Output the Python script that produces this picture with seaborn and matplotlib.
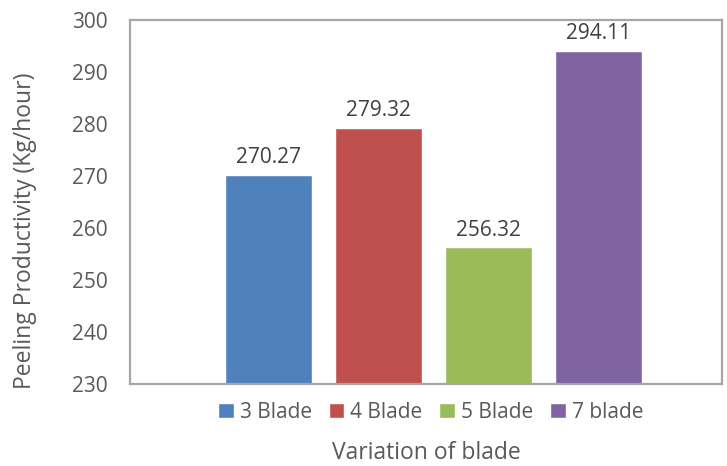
import matplotlib
matplotlib.use("Agg")
import matplotlib.pyplot as plt
import seaborn as sns
import pandas as pd

# Peeling productivity for each blade configuration
categories = ["3 Blade", "4 Blade", "5 Blade", "7 blade"]
productivity = [270.27, 279.32, 256.32, 294.11]
colors = ["#4F81BD", "#C0504D", "#9BBB59", "#8064A2"]
yticks = [230, 240, 250, 260, 270, 280, 290, 300]

df = pd.DataFrame({"group": [""] * len(categories),
                   "blade": categories,
                   "value": productivity})

sns.set_style("white")
plt.rcParams["font.family"] = ["Open Sans", "DejaVu Sans"]

fig = plt.figure(figsize=(7.27, 4.66), dpi=100)
ax = fig.add_axes([0.1788, 0.176, 0.8143, 0.781])

sns.barplot(data=df, x="group", y="value", hue="blade", palette=colors,
            width=0.8, gap=0.21, ax=ax, legend=True, saturation=1)

ax.set_ylim(230, 300)
ax.set_xlim(-0.552, 0.5245)
ax.set_yticks(yticks)
ax.set_yticklabels([str(t) for t in yticks], fontsize=15, color="#595959")
ax.set_xticks([])
ax.tick_params(axis="y", length=0, pad=16)

for s in ax.spines.values():
    s.set_color("#A6A6A6")
    s.set_linewidth(1.6)

for cont in ax.containers:
    ax.bar_label(cont, fmt="%.2f", padding=4.5, fontsize=15, color="#404040")

ax.set_ylabel("Peeling Productivity (Kg/hour)", fontsize=16.5, color="#595959", va="center")
ax.yaxis.set_label_coords(-0.177, 0.42)
ax.set_xlabel("Variation of blade", fontsize=16.5, color="#595959", va="center")
ax.xaxis.set_label_coords(0.5, -0.19)

leg = ax.legend(loc="center", bbox_to_anchor=(0.508, -0.077), ncol=4,
                frameon=False, fontsize=15, handlelength=0.75, handleheight=0.75,
                handletextpad=0.3, columnspacing=0.8, borderpad=0)
for t in leg.get_texts():
    t.set_color("#595959")

fig.savefig("out.png", dpi=100)
